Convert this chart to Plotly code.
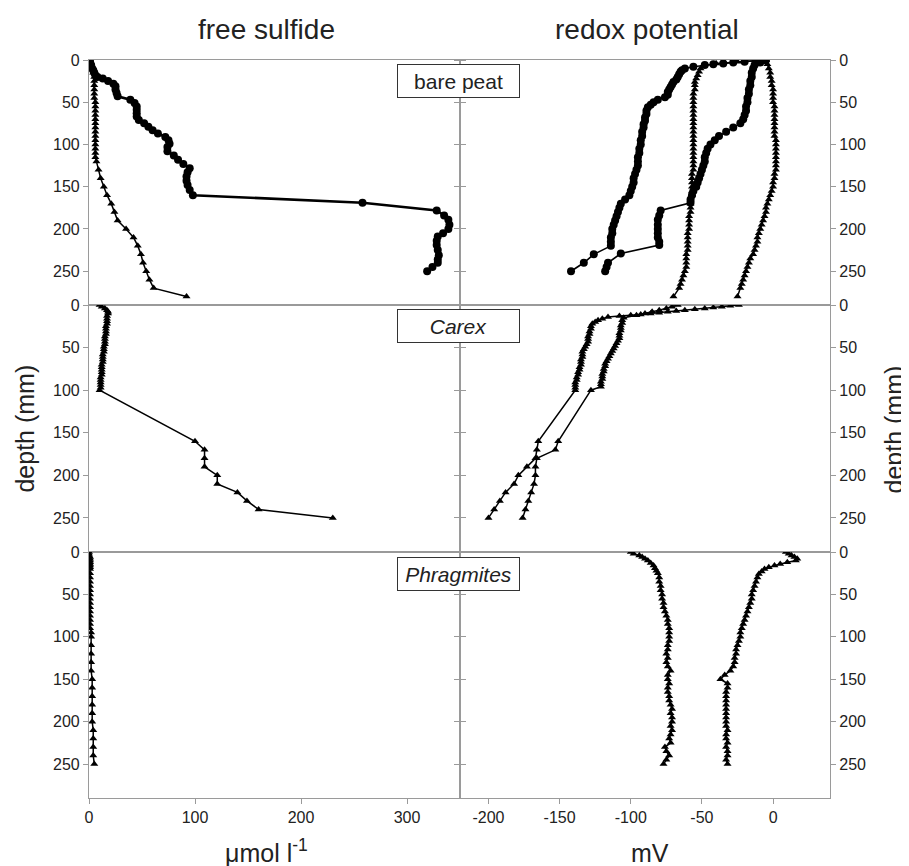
import plotly.graph_objects as go

# ---------------- data (depth in mm) ----------------
# bare peat, free sulfide (µmol l-1)
bp_s_circ_d = [0, 2, 4, 6, 8, 10, 12, 15, 18, 20, 22, 25, 28, 31, 35, 39, 43, 47, 51, 55,
               59, 63, 67, 71, 75, 79, 83, 87, 91, 95, 99, 103, 108, 113, 118, 123, 128, 133, 138, 143,
               148, 154, 160, 169, 178, 184, 189, 195, 200, 205, 209, 214, 219, 225, 231, 236, 240, 245, 250]
bp_s_circ_v = [0, 1, 1, 2, 2, 3, 4, 5, 6, 8, 13, 18, 23, 25, 25, 26, 27, 39, 43, 45,
               45, 45, 45, 47, 52, 56, 60, 65, 72, 75, 76, 74, 74, 80, 84, 89, 95, 93, 92, 92,
               93, 95, 98, 258, 328, 335, 339, 340, 339, 334, 329, 328, 328, 329, 330, 329, 329, 324, 319]
bp_s_tri_d = [0, 5, 10, 15, 20, 25, 30, 35, 40, 45, 50, 55, 60, 65, 70, 75, 80, 85, 90, 95,
              100, 105, 110, 115, 120, 130, 140, 150, 160, 170, 180, 190, 200, 210, 220, 230, 240, 250,
              260, 270, 280]
bp_s_tri_v = [0, 2, 3, 4, 5, 5, 5, 5, 5, 5, 6, 6, 6, 6, 6, 6, 6, 6, 6, 6,
              6, 6, 6, 6, 7, 9, 11, 14, 17, 21, 24, 27, 35, 42, 46, 49, 51, 54,
              57, 61, 92]

# bare peat, redox potential (mV)
bp_r_a_d = [0, 1, 2, 3, 4, 5, 6, 8, 10, 12, 14, 17, 20, 23, 26, 29, 32, 35, 38, 41,
            44, 47, 50, 53, 56, 60, 64, 68, 72, 76, 80, 85, 90, 95, 100, 105, 110, 115, 120, 125,
            130, 135, 140, 145, 150, 155, 160, 165, 170, 175, 180, 185, 190, 195, 200, 205, 210, 215, 220, 230,
            240, 250]
bp_r_a_v = [-6, -12, -20, -28, -35, -42, -48, -56, -62, -64, -65, -66, -67, -68, -70, -71, -72, -73, -74, -74,
            -76, -81, -84, -86, -88, -89, -89, -90, -90, -91, -91, -92, -92, -93, -93, -94, -94, -95, -95, -95,
            -96, -97, -98, -98, -99, -100, -101, -104, -107, -108, -109, -110, -111, -112, -113, -113, -114, -114, -114, -126,
            -133, -142]
bp_r_b_d = [0, 3, 6, 10, 15, 20, 25, 30, 35, 40, 45, 50, 55, 60, 65, 70, 75, 80, 85, 90,
            95, 100, 105, 110, 115, 120, 125, 130, 135, 140, 145, 150, 155, 160, 165, 169, 178, 184, 189, 195,
            200, 205, 210, 215, 219, 229, 240, 245, 250]
bp_r_b_v = [-5, -9, -13, -14, -15, -15, -16, -16, -17, -17, -18, -18, -19, -19, -20, -21, -23, -28, -33, -38,
            -41, -44, -46, -47, -48, -48, -49, -50, -51, -52, -53, -54, -56, -57, -58, -58, -79, -80, -81, -81,
            -81, -81, -81, -80, -80, -107, -116, -117, -118]
bp_r_c_d = [0, 2, 4, 7, 10, 14, 18, 22, 26, 30,
            35, 40, 45, 50, 55, 60, 65, 70, 75, 80, 85, 90, 95, 100, 105, 110, 115, 120, 125, 130, 135, 140, 145, 150,
            155, 160, 165, 170, 175, 180, 185, 190, 195, 200, 205, 210, 215, 220, 225, 230, 235, 240, 245, 250,
            255, 260, 265, 270, 280]
bp_r_c_v = [-5, -25, -40, -49, -51, -52, -53, -54, -55, -55,
            -55, -56, -56, -56, -56, -56, -56, -56, -56, -56, -56, -56, -56, -56, -56, -56, -56, -56, -56, -56, -57, -57, -57, -57,
            -57, -57, -58, -58, -58, -58, -59, -59, -59, -59, -60, -60, -60, -60, -60, -61, -61, -61, -61, -62,
            -63, -64, -65, -66, -70]
bp_r_d_d = [0, 5, 10, 15, 20, 25, 30, 35, 40, 45, 50, 55, 60, 65, 70, 75, 80, 85, 90, 95,
            100, 105, 110, 115, 120, 125, 130, 135, 140, 145, 150, 155, 160, 165, 170, 175, 180, 185, 190, 195,
            200, 205, 210, 215, 220, 225, 230, 235, 240, 245, 250, 255, 260, 265, 270, 280]
bp_r_d_v = [-5, -4, -3, -2, -2, -1, -1, 0, 0, 0, 0, 1, 1, 1, 1, 1, 1, 1, 1, 2,
            2, 2, 2, 2, 2, 2, 2, 1, 1, 0, 0, -1, -2, -3, -4, -5, -5, -6, -7, -8,
            -9, -10, -11, -11, -12, -13, -14, -16, -17, -18, -19, -20, -21, -22, -23, -25]

# Carex, free sulfide
cx_s_d = [0, 2, 4, 6, 8, 10, 13, 16, 19, 22, 25, 28, 31, 34, 37, 40, 43, 46, 49, 52,
          55, 58, 61, 64, 67, 70, 73, 76, 79, 82, 85, 88, 91, 94, 97, 100,
          160, 170, 180, 190, 200, 210, 220, 230, 240, 250]
cx_s_v = [10, 12, 15, 17, 18, 18, 17, 17, 17, 17, 16, 16, 16, 16, 15, 15, 15, 15, 14, 14,
          14, 13, 13, 13, 13, 12, 12, 12, 12, 12, 11, 11, 11, 11, 11, 10,
          100, 109, 109, 109, 121, 121, 140, 149, 160, 230]

# Carex, redox potential
cx_r_e_d = [0, 1, 2, 3, 4, 5, 6, 7, 8, 9, 10, 11, 12, 13, 14, 16, 18, 20, 22,
            25, 28, 31, 34, 37, 40, 43, 46, 49, 52, 55, 58, 61, 64, 67, 70, 73, 76, 79, 82, 85, 88, 91, 94, 97, 100,
            160, 170, 180, 190, 200, 210, 220, 230, 240, 250]
cx_r_e_v = [-24, -30, -36, -42, -48, -55, -62, -68, -74, -80, -86, -93, -100, -108, -116, -120, -123, -125, -127,
            -128, -128, -129, -129, -130, -130, -130, -131, -132, -133, -134, -134, -134, -135, -135, -135, -136, -136,
            -137, -137, -138, -138, -139, -139, -139, -139,
            -165, -166, -167, -173, -179, -182, -188, -192, -196, -200]
cx_r_f_d = [0, 2, 4, 6, 8, 10, 12,
            15, 18, 21, 24, 27, 30, 33, 36, 39, 42, 45, 48, 51, 54, 57, 60, 63, 66, 69, 72, 75, 78, 81, 84, 87, 90, 93, 96,
            100, 160, 170, 180, 190, 200, 210, 220, 230, 240, 250]
cx_r_f_v = [-67, -71, -75, -80, -85, -90, -96,
            -105, -106, -106, -107, -107, -107, -108, -108, -108, -109, -110, -111, -112, -113, -114, -115, -116, -117,
            -118, -118, -119, -119, -120, -120, -120, -121, -121, -121,
            -128, -151, -153, -166, -167, -167, -168, -170, -172, -174, -176]

# Phragmites, free sulfide
ph_s_d = [0, 2, 4, 6, 8, 10, 12, 14, 16, 18, 20,
          25, 30, 35, 40, 45, 50, 55, 60, 65, 70, 75, 80, 85, 90, 95, 100,
          110, 120, 130, 140, 150, 160, 170, 180, 190, 200, 210, 220, 230, 240, 250]
ph_s_v = [0, 0, 0, 1, 1, 1, 1, 1, 1, 1, 1,
          1, 1, 1, 1, 1, 1, 1, 1, 1, 1, 1, 1, 1, 1, 2, 2,
          2, 2, 2, 2, 3, 3, 3, 3, 3, 3, 4, 4, 4, 4, 5]

# Phragmites, redox potential
ph_r_g_d = [0, 2, 4, 6, 8, 10, 13, 16, 19, 22,
            25, 30, 35, 40, 45, 50, 55, 60, 65, 70, 75, 80, 85, 90, 95, 100, 105, 110, 115, 120,
            125, 130, 135, 140, 145, 150, 155, 160, 165, 170, 175, 180, 185, 190, 195, 200, 205, 210, 215, 220,
            225, 230, 235, 240, 245, 250]
ph_r_g_v = [-100, -98, -94, -92, -90, -88, -86, -84, -83, -82,
            -81, -80, -80, -79, -79, -78, -78, -77, -77, -76, -75, -74, -74, -73, -73, -73, -73, -74, -74, -75,
            -74, -75, -74, -72, -74, -74, -73, -74, -74, -73, -73, -72, -71, -72, -71, -71, -72, -71, -72, -73,
            -72, -76, -75, -73, -75, -77]
ph_r_h_d = [0, 2, 4, 6, 8, 10, 12, 14, 16, 18, 20, 23, 26, 30,
            35, 40, 45, 50, 55, 60, 65, 70, 75, 80, 85, 90, 95, 100, 105, 110, 115, 120, 125, 130,
            135, 140, 145, 150, 155, 160, 165, 170, 175, 180, 185, 190, 195, 200, 205, 210, 215, 220, 225, 230,
            235, 240, 245, 250]
ph_r_h_v = [9, 11, 13, 15, 17, 16, 10, 5, 1, -3, -6, -8, -10, -11,
            -12, -13, -14, -15, -15, -16, -17, -18, -19, -20, -21, -22, -23, -23, -24, -25, -26, -26, -27, -27,
            -28, -30, -34, -37, -32, -32, -33, -33, -33, -33, -33, -33, -33, -33, -33, -32, -33, -33, -32, -33,
            -32, -32, -33, -32]

depth_ticks = [0, 50, 100, 150, 200, 250]
sulfide_ticks = [0, 100, 200, 300]
redox_ticks = [-200, -150, -100, -50, 0]
redox_ticklabels = ["-200", "-150", "-100", "-50", "0"]
panel_names = ["bare peat", "<i>Carex</i>", "<i>Phragmites</i>"]

# ---------------- figure ----------------
fig = go.Figure()

def add(xv, yv, ax, marker, size, lw):
    fig.add_trace(go.Scatter(
        x=xv, y=yv, mode="lines+markers",
        xaxis="x" + ("" if ax == 1 else str(ax)),
        yaxis="y" + ("" if ax == 1 else str(ax)),
        line=dict(color="black", width=lw),
        marker=dict(symbol=marker, size=size, color="black"),
        showlegend=False, hoverinfo="skip"))

CS, TS = 8, 7
add(bp_s_circ_v, bp_s_circ_d, 1, "circle", CS, 2.6)
add(bp_s_tri_v, bp_s_tri_d, 1, "triangle-up", TS, 1.5)
add(bp_r_a_v, bp_r_a_d, 2, "circle", CS, 1.6)
add(bp_r_b_v, bp_r_b_d, 2, "circle", CS, 1.6)
add(bp_r_c_v, bp_r_c_d, 2, "triangle-up", TS, 1.5)
add(bp_r_d_v, bp_r_d_d, 2, "triangle-up", TS, 1.5)
add(cx_s_v, cx_s_d, 3, "triangle-up", TS, 1.5)
add(cx_r_e_v, cx_r_e_d, 4, "triangle-up", TS, 1.5)
add(cx_r_f_v, cx_r_f_d, 4, "triangle-up", TS, 1.5)
add(ph_s_v, ph_s_d, 5, "triangle-up", TS, 1.5)
add(ph_r_g_v, ph_r_g_d, 6, "triangle-up", TS, 1.5)
add(ph_r_h_v, ph_r_h_d, 6, "triangle-up", TS, 1.5)

AX = "#9a9a9a"
tickfont = dict(family="Liberation Sans, Arial, sans-serif", size=16, color="#222222")
xl = [0, 0.5007]
xr = [0.5007, 1]
ydoms = [[0.668, 1.0], [0.3333, 0.668], [0.0, 0.3333]]

# page body has an 8 px margin, so the figure is 8 px smaller on each axis
layout = dict(
    width=901, height=858,
    margin=dict(l=81, r=79, t=52, b=68),
    paper_bgcolor="white", plot_bgcolor="white",
    font=dict(family="Liberation Sans, Arial, sans-serif", color="#222222"),
)

for row in range(3):
    for col in range(2):
        idx = row * 2 + col + 1
        sfx = "" if idx == 1 else str(idx)
        bottom = (row == 2)
        xa = dict(domain=xl if col == 0 else xr, anchor="y" + sfx,
                  range=[0, 350] if col == 0 else [-220, 40],
                  showgrid=False, zeroline=False, showline=True, linecolor=AX, linewidth=1.2,
                  mirror=True, tickfont=tickfont)
        if bottom:
            if col == 0:
                xa.update(tickvals=sulfide_ticks)
            else:
                xa.update(tickvals=redox_ticks, ticktext=redox_ticklabels)
            xa.update(ticks="outside", ticklen=5, tickcolor=AX, tickwidth=1.2, showticklabels=True)
        else:
            xa.update(ticks="", showticklabels=False)
        ya = dict(domain=ydoms[row], anchor="x" + sfx, range=[290, 0],
                  tickvals=depth_ticks, ticks="outside", ticklen=5, tickcolor=AX, tickwidth=1.2,
                  showgrid=False, zeroline=False, showline=True, linecolor=AX, linewidth=1.2,
                  mirror="ticks", side="left" if col == 0 else "right", tickfont=tickfont)
        layout["xaxis" + sfx] = xa
        layout["yaxis" + sfx] = ya

fig.update_layout(**layout)

ann = []
ann.append(dict(text="free sulfide", x=0.240, y=1.041, xref="paper", yref="paper",
                showarrow=False, font=dict(size=28, color="#222222"), xanchor="center", yanchor="middle"))
ann.append(dict(text="redox potential", x=0.753, y=1.041, xref="paper", yref="paper",
                showarrow=False, font=dict(size=28, color="#222222"), xanchor="center", yanchor="middle"))
ann.append(dict(text="depth (mm)", x=-0.087, y=0.5, xref="paper", yref="paper", textangle=-90,
                showarrow=False, font=dict(size=25, color="#222222"), xanchor="center", yanchor="middle"))
ann.append(dict(text="depth (mm)", x=1.087, y=0.5, xref="paper", yref="paper", textangle=-90,
                showarrow=False, font=dict(size=25, color="#222222"), xanchor="center", yanchor="middle"))
ann.append(dict(text="\u03bcmol l<sup>-1</sup>", x=0.240, y=-0.072, xref="paper", yref="paper",
                showarrow=False, font=dict(size=25, color="#222222"), xanchor="center", yanchor="middle"))
ann.append(dict(text="mV", x=0.757, y=-0.074, xref="paper", yref="paper",
                showarrow=False, font=dict(size=25, color="#222222"), xanchor="center", yanchor="middle"))
for name, yc in zip(panel_names, [0.9715, 0.6396, 0.3035]):
    ann.append(dict(text=name, x=0.4993, y=yc, xref="paper", yref="paper", showarrow=False,
                    font=dict(size=21, color="#222222"), xanchor="center", yanchor="middle",
                    bgcolor="white", bordercolor="#333333", borderwidth=1, borderpad=2,
                    width=117, height=28))
fig.update_layout(annotations=ann)

fig.write_html("out.html")
